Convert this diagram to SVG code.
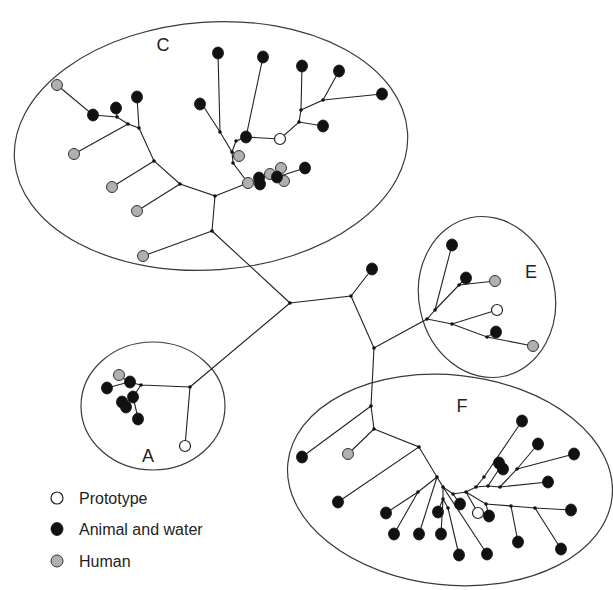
<svg xmlns="http://www.w3.org/2000/svg" width="613" height="590" viewBox="0 0 613 590">
<style>
  .hull { fill: none; stroke: #3a3a3a; stroke-width: 1.2; }
  .edge { fill: none; stroke: #222; stroke-width: 1.1; stroke-linecap: round; }
  .junc { fill: #111; }
  .ani { fill: #111; stroke: #111; stroke-width: 0.8; }
  .hum { fill: #b0b0b0; stroke: #333; stroke-width: 1; }
  .pro { fill: #fff; stroke: #222; stroke-width: 1.2; }
  .lbl { font-family: "Liberation Sans", Arial, sans-serif; font-size: 18px; fill: #222; }
  .leg { font-family: "Liberation Sans", Arial, sans-serif; font-size: 16px; fill: #222; }
</style>

<!-- cluster hulls -->
<g id="hulls">
  <ellipse class="hull" cx="211" cy="146" rx="197" ry="124" transform="rotate(-4 211 146)"/>
  <ellipse class="hull" cx="487" cy="297" rx="68" ry="81" transform="rotate(-12 487 297)"/>
  <ellipse class="hull" cx="153" cy="406" rx="72" ry="64"/>
  <ellipse class="hull" cx="450" cy="480" rx="163" ry="105" transform="rotate(6 450 480)"/>
</g>

<!-- tree branches -->
<g id="connectors">
  <!-- trunk -->
  <path class="edge" d="M290,303 L212,231 M290,303 L351,296 L372,269 M351,296 L374,348 L427,319 L435,310 M374,348 L371,406 M290,303 L190,387"/>
  <!-- cluster C -->
  <path class="edge" d="M212,231 L143,256 M212,231 L215,196 L180,184 L154,161 L139,128 L128,124 L117,117 L93,115 L57,85 M117,117 L116,108 M139,128 L137,97 M128,124 L74,154 M154,161 L112,187 M180,184 L137,211"/>
  <path class="edge" d="M215,196 L248,183 L233,163 L232,152 L220,132 L202,104 M220,132 L218,53 M232,152 L236,141 L246,137 L263,57 M246,137 L280,139 L299,122 L323,126 M299,122 L301,110 L302,66 M301,110 L323,100 L339,71 M323,100 L382,94 M232,152 L239,156 M248,183 L259,180 L270,174 L277,177 L282,170 M277,177 L284,181 M277,177 L305,168"/>
  <!-- cluster E -->
  <path class="edge" d="M435,310 L452,245 M435,310 L459,285 L466,278 M459,285 L495,281 M427,319 L452,324 L497,310 M452,324 L487,337 L496,332 M487,337 L533,346"/>
  <!-- cluster A -->
  <path class="edge" d="M190,387 L141,385 L129,382 L118,375 M129,382 L107,388 M141,385 L133,397 L138,418 M133,397 L124,404 M190,387 L185,446"/>
  <!-- cluster F -->
  <path class="edge" d="M371,406 L302,457 M371,406 L374,429 L348,454 M374,429 L419,447 L338,502 M419,447 L437,477 L418,492 L386,513 M418,492 L394,534 M437,477 L419,534 M437,477 L443,487 L443,499 L441,534 M443,499 L438,511 M443,499 L448,508 L459,555 M443,487 L487,554"/>
  <path class="edge" d="M443,487 L453,494 L466,492 L476,487 L488,486 L500,487 L548,482 M453,494 L460,504 M466,492 L478,513 M466,492 L486,504 L489,516 M486,504 L511,506 L535,508 L571,510 M511,506 L518,542 M535,508 L561,549 M476,487 L484,477 L522,421 M488,486 L501,466 M500,487 L517,469 L538,444 M517,469 L574,454"/>
</g>

<!-- branch junctions -->
<g id="junctions">
  <circle class="junc" cx="290" cy="303" r="1.8"/>
  <circle class="junc" cx="351" cy="296" r="1.8"/>
  <circle class="junc" cx="374" cy="348" r="1.8"/>
  <circle class="junc" cx="212" cy="231" r="1.8"/>
  <circle class="junc" cx="215" cy="196" r="1.8"/>
  <circle class="junc" cx="180" cy="184" r="1.8"/>
  <circle class="junc" cx="154" cy="161" r="1.8"/>
  <circle class="junc" cx="139" cy="128" r="1.8"/>
  <circle class="junc" cx="128" cy="124" r="1.8"/>
  <circle class="junc" cx="117" cy="117" r="1.8"/>
  <circle class="junc" cx="220" cy="132" r="1.8"/>
  <circle class="junc" cx="232" cy="152" r="1.8"/>
  <circle class="junc" cx="233" cy="163" r="1.8"/>
  <circle class="junc" cx="236" cy="141" r="1.8"/>
  <circle class="junc" cx="299" cy="122" r="1.8"/>
  <circle class="junc" cx="301" cy="110" r="1.8"/>
  <circle class="junc" cx="323" cy="100" r="1.8"/>
  <circle class="junc" cx="427" cy="319" r="1.8"/>
  <circle class="junc" cx="435" cy="310" r="1.8"/>
  <circle class="junc" cx="459" cy="285" r="1.8"/>
  <circle class="junc" cx="452" cy="324" r="1.8"/>
  <circle class="junc" cx="487" cy="337" r="1.8"/>
  <circle class="junc" cx="190" cy="387" r="1.8"/>
  <circle class="junc" cx="141" cy="385" r="1.8"/>
  <circle class="junc" cx="371" cy="406" r="1.8"/>
  <circle class="junc" cx="374" cy="429" r="1.8"/>
  <circle class="junc" cx="419" cy="447" r="1.8"/>
  <circle class="junc" cx="437" cy="477" r="1.8"/>
  <circle class="junc" cx="418" cy="492" r="1.8"/>
  <circle class="junc" cx="443" cy="487" r="1.8"/>
  <circle class="junc" cx="443" cy="499" r="1.8"/>
  <circle class="junc" cx="448" cy="508" r="1.8"/>
  <circle class="junc" cx="453" cy="494" r="1.8"/>
  <circle class="junc" cx="466" cy="492" r="1.8"/>
  <circle class="junc" cx="476" cy="487" r="1.8"/>
  <circle class="junc" cx="488" cy="486" r="1.8"/>
  <circle class="junc" cx="500" cy="487" r="1.8"/>
  <circle class="junc" cx="484" cy="477" r="1.8"/>
  <circle class="junc" cx="517" cy="469" r="1.8"/>
  <circle class="junc" cx="486" cy="504" r="1.8"/>
  <circle class="junc" cx="511" cy="506" r="1.8"/>
  <circle class="junc" cx="535" cy="508" r="1.8"/>
</g>

<!-- cluster C leaves -->
<g id="cluster-C">
  <text class="lbl" x="163" y="51" text-anchor="middle">C</text>
  <ellipse class="hum" cx="57" cy="85" rx="5.5" ry="5.5"/>
  <ellipse class="ani" cx="93" cy="115" rx="5.5" ry="6"/>
  <ellipse class="ani" cx="116" cy="108" rx="5.5" ry="6"/>
  <ellipse class="ani" cx="137" cy="97" rx="5.5" ry="6"/>
  <ellipse class="hum" cx="74" cy="154" rx="5.5" ry="5.5"/>
  <ellipse class="hum" cx="112" cy="187" rx="5.5" ry="5.5"/>
  <ellipse class="hum" cx="137" cy="211" rx="5.5" ry="5.5"/>
  <ellipse class="hum" cx="143" cy="256" rx="5.5" ry="5.5"/>
  <ellipse class="ani" cx="200" cy="104" rx="5.5" ry="6"/>
  <ellipse class="ani" cx="218" cy="53" rx="5.5" ry="6"/>
  <ellipse class="ani" cx="263" cy="57" rx="5.5" ry="6"/>
  <ellipse class="ani" cx="302" cy="66" rx="5.5" ry="6"/>
  <ellipse class="ani" cx="339" cy="71" rx="5.5" ry="6"/>
  <ellipse class="ani" cx="382" cy="94" rx="5.5" ry="6"/>
  <ellipse class="ani" cx="323" cy="126" rx="5.5" ry="6"/>
  <ellipse class="pro" cx="280" cy="139" rx="5.5" ry="5.5"/>
  <ellipse class="ani" cx="246" cy="137" rx="5.5" ry="6"/>
  <ellipse class="hum" cx="239" cy="156" rx="5.5" ry="5.5"/>
  <ellipse class="hum" cx="248" cy="183" rx="5.5" ry="5.5"/>
  <ellipse class="ani" cx="259" cy="178" rx="5.5" ry="6"/>
  <ellipse class="ani" cx="260" cy="184" rx="5.5" ry="6"/>
  <ellipse class="hum" cx="270" cy="174" rx="5.5" ry="5.5"/>
  <ellipse class="hum" cx="281" cy="168" rx="5.5" ry="5.5"/>
  <ellipse class="hum" cx="284" cy="181" rx="5.5" ry="5.5"/>
  <ellipse class="ani" cx="277" cy="177" rx="5.5" ry="6"/>
  <ellipse class="ani" cx="305" cy="168" rx="5.5" ry="6"/>
</g>

<!-- lone leaf between clusters -->
<g id="node-mid">
  <ellipse class="ani" cx="372" cy="269" rx="5.5" ry="6"/>
</g>

<!-- cluster E leaves -->
<g id="cluster-E">
  <text class="lbl" x="531" y="278" text-anchor="middle">E</text>
  <ellipse class="ani" cx="452" cy="245" rx="5.5" ry="6"/>
  <ellipse class="ani" cx="466" cy="278" rx="5.5" ry="6"/>
  <ellipse class="hum" cx="495" cy="281" rx="5.5" ry="5.5"/>
  <ellipse class="pro" cx="497" cy="310" rx="5.5" ry="5.5"/>
  <ellipse class="ani" cx="496" cy="332" rx="5.5" ry="6"/>
  <ellipse class="hum" cx="533" cy="346" rx="5.5" ry="5.5"/>
</g>

<!-- cluster A leaves -->
<g id="cluster-A">
  <text class="lbl" x="148" y="462" text-anchor="middle">A</text>
  <ellipse class="hum" cx="119" cy="375" rx="5.5" ry="5.5"/>
  <ellipse class="ani" cx="130" cy="382" rx="5.5" ry="6"/>
  <ellipse class="ani" cx="107" cy="388" rx="5.5" ry="6"/>
  <ellipse class="ani" cx="133" cy="397" rx="5.5" ry="6"/>
  <ellipse class="ani" cx="122" cy="402" rx="5.5" ry="6"/>
  <ellipse class="ani" cx="126" cy="407" rx="5.5" ry="6"/>
  <ellipse class="ani" cx="138" cy="419" rx="5.5" ry="6"/>
  <ellipse class="pro" cx="185" cy="446" rx="5.5" ry="5.5"/>
</g>

<!-- cluster F leaves -->
<g id="cluster-F">
  <text class="lbl" x="462" y="412" text-anchor="middle">F</text>
  <ellipse class="ani" cx="302" cy="457" rx="5.5" ry="6"/>
  <ellipse class="hum" cx="348" cy="454" rx="5.5" ry="5.5"/>
  <ellipse class="ani" cx="338" cy="502" rx="5.5" ry="6"/>
  <ellipse class="ani" cx="386" cy="513" rx="5.5" ry="6"/>
  <ellipse class="ani" cx="394" cy="534" rx="5.5" ry="6"/>
  <ellipse class="ani" cx="419" cy="534" rx="5.5" ry="6"/>
  <ellipse class="ani" cx="438" cy="512" rx="5.5" ry="6"/>
  <ellipse class="ani" cx="441" cy="534" rx="5.5" ry="6"/>
  <ellipse class="ani" cx="459" cy="555" rx="5.5" ry="6"/>
  <ellipse class="ani" cx="487" cy="554" rx="5.5" ry="6"/>
  <ellipse class="ani" cx="460" cy="504" rx="5.5" ry="6"/>
  <ellipse class="pro" cx="478" cy="513" rx="5.5" ry="5.5"/>
  <ellipse class="ani" cx="489" cy="516" rx="5.5" ry="6"/>
  <ellipse class="ani" cx="499" cy="463" rx="5.5" ry="6"/>
  <ellipse class="ani" cx="503" cy="469" rx="5.5" ry="6"/>
  <ellipse class="ani" cx="522" cy="421" rx="5.5" ry="6"/>
  <ellipse class="ani" cx="538" cy="444" rx="5.5" ry="6"/>
  <ellipse class="ani" cx="574" cy="454" rx="5.5" ry="6"/>
  <ellipse class="ani" cx="548" cy="482" rx="5.5" ry="6"/>
  <ellipse class="ani" cx="571" cy="510" rx="5.5" ry="6"/>
  <ellipse class="ani" cx="518" cy="542" rx="5.5" ry="6"/>
  <ellipse class="ani" cx="561" cy="549" rx="5.5" ry="6"/>
</g>

<!-- legend -->
<g id="legend">
  <ellipse class="pro" cx="57" cy="498" rx="6" ry="6"/>
  <text class="leg" x="79" y="504">Prototype</text>
  <ellipse class="ani" cx="57" cy="529" rx="6" ry="6.5"/>
  <text class="leg" x="79" y="535">Animal and water</text>
  <ellipse class="hum" cx="57" cy="561" rx="6" ry="6"/>
  <text class="leg" x="79" y="567">Human</text>
</g>
</svg>
